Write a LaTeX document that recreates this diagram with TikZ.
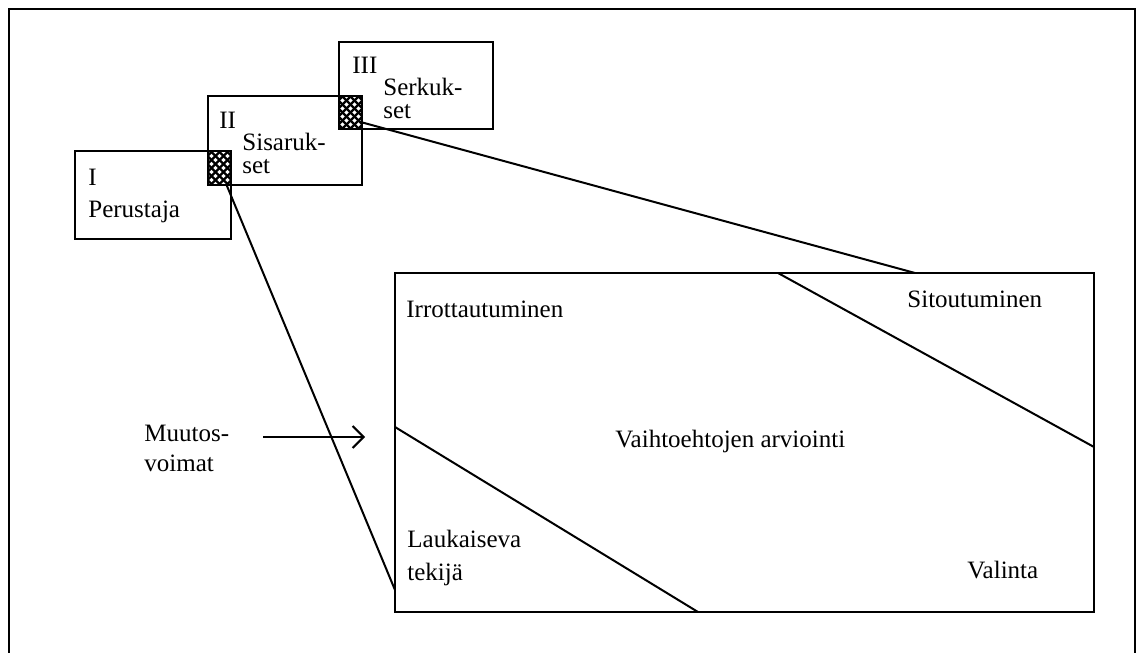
\documentclass[tikz,border=0pt]{standalone}
\usepackage{fontspec}
\setmainfont{Liberation Serif}
\usetikzlibrary{arrows.meta}
\begin{document}
\begin{tikzpicture}[x=0.5pt,y=-0.5pt,
  frm/.style={draw, line width=1pt, inner sep=0pt, outer sep=0pt},
  lbl/.style={anchor=base west, inner sep=0pt, font=\fontsize{12.5}{15}\selectfont},
  conn/.style={line width=1pt},
  hatchbox/.style={draw, line width=1pt, inner sep=0pt, outer sep=0pt, fill=white,
    path picture={
      \foreach \k in {-8,...,8}{
        \draw[line width=1.2pt] ([shift={(\k*8-40,-40)}]path picture bounding box.center) -- ++(80,80);
        \draw[line width=1.2pt] ([shift={(\k*8+40,-40)}]path picture bounding box.center) -- ++(-80,80);
      }}}]
\useasboundingbox (0,0) rectangle (1138,652);
% outer frame (bottom edge lies outside the picture)
\draw[line width=1.1pt] (9,670) -- (9,9) -- (1135,9) -- (1135,670);

% small boxes
\node[frm, minimum width=78pt, minimum height=44pt] (b1) at (153,195) {};
\node[frm, minimum width=77pt, minimum height=44.5pt] (b2) at (285,140.5) {};
\node[frm, minimum width=77pt, minimum height=43.5pt] (b3) at (416,85.5) {};

% main box
\node[frm, minimum width=349.5pt, minimum height=169.5pt] (main) at (744.5,442.5) {};

% points on the main box border
\coordinate (m1) at (395,590);
\coordinate (m2) at (915,273);
\coordinate (d1a) at (778,273);
\coordinate (d1b) at (1094,447);
\coordinate (d2a) at (395,427);
\coordinate (d2b) at (698,612);
\draw[conn] (d1a) -- (d1b);
\draw[conn] (d2a) -- (d2b);

% connectors from the overlaps
\node[inner sep=0pt, minimum width=11.5pt, minimum height=17pt] (h1) at (219.5,168) {};
\node[inner sep=0pt, minimum width=11.5pt, minimum height=16.5pt] (h2) at (350.5,112.5) {};
\draw[conn] (h1.center) -- (m1);
\draw[conn] ([yshift=-5pt]h2.east) -- (m2);
\node[hatchbox, minimum width=11.5pt, minimum height=17pt] at (h1) {};
\node[hatchbox, minimum width=11.5pt, minimum height=16.5pt] at (h2) {};

% labels in small boxes
\node[lbl] (t1a) at (88,185) {I};
\node[lbl] (t1b) at (88,217) {Perustaja};
\node[lbl] (t2a) at (219,129) {II};
\node[lbl] (t2b) at (242,151) {Sisaruk-};
\node[lbl] (t2c) at (242,174) {set};
\node[lbl] (t3a) at (352,74) {III};
\node[lbl] (t3b) at (383,96) {Serkuk-};
\node[lbl] (t3c) at (383,119) {set};

% labels in main box
\node[lbl] (irr) at (406,317) {Irrottautuminen};
\node[lbl] (sit) at (907,307) {Sitoutuminen};
\node[lbl] (vai) at (615,447) {Vaihtoehtojen arviointi};
\node[lbl] (lau) at (407,547) {Laukaiseva};
\node[lbl] (tek) at (407,580) {tekijä};
\node[lbl] (val) at (967,578) {Valinta};

% driving forces
\node[lbl] (mu1) at (144,441) {Muutos-};
\node[lbl] (mu2) at (144,471) {voimat};
\coordinate (arrS) at (263,437);
\coordinate (arrE) at (365,437);
\draw[conn, -{Straight Barb[length=5.5pt, width=11pt, line width=1pt]}] (arrS) -- (arrE);
\end{tikzpicture}
\end{document}
